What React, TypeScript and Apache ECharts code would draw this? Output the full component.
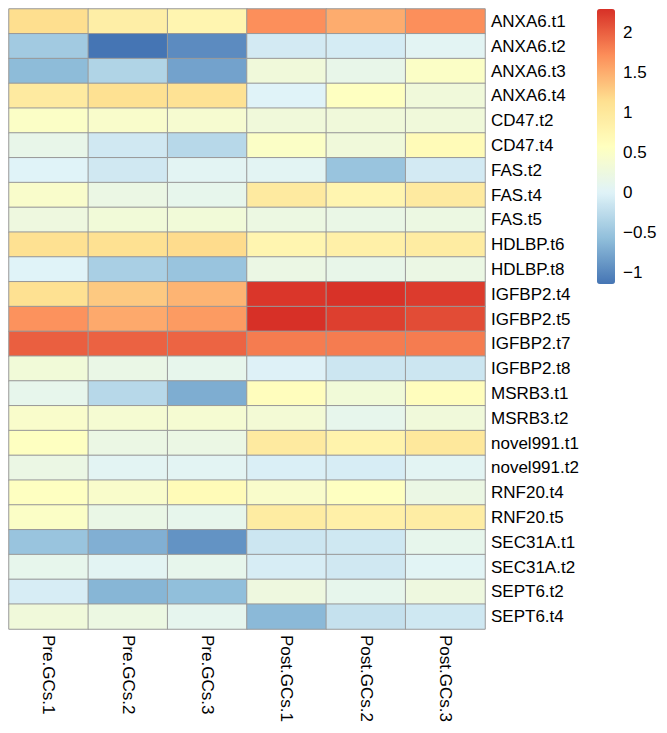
import React, { useEffect, useRef } from "react";
import * as echarts from "echarts";

const rows = [
  "ANXA6.t1", "ANXA6.t2", "ANXA6.t3", "ANXA6.t4", "CD47.t2", "CD47.t4",
  "FAS.t2", "FAS.t4", "FAS.t5", "HDLBP.t6", "HDLBP.t8", "IGFBP2.t4",
  "IGFBP2.t5", "IGFBP2.t7", "IGFBP2.t8", "MSRB3.t1", "MSRB3.t2",
  "novel991.t1", "novel991.t2", "RNF20.t4", "RNF20.t5", "SEC31A.t1",
  "SEC31A.t2", "SEPT6.t2", "SEPT6.t4",
];

const samples = ["Pre.GCs.1", "Pre.GCs.2", "Pre.GCs.3", "Post.GCs.1", "Post.GCs.2", "Post.GCs.3"];

const pre1 = [1.15, -0.45, -0.6, 0.95, 0.5, 0.15, 0.0, 0.45, 0.25, 1.12, 0.0, 1.12, 1.68, 2.0, 0.32, 0.12, 0.45, 0.55, 0.2, 0.55, 0.5, -0.52, 0.12, -0.07, 0.3];
const pre2 = [0.88, -1.15, -0.35, 1.12, 0.45, -0.12, -0.12, 0.2, 0.32, 1.12, -0.4, 1.3, 1.52, 1.98, 0.18, -0.3, 0.38, 0.2, 0.05, 0.45, 0.18, -0.7, 0.05, -0.65, 0.22];
const pre3 = [0.75, -0.98, -0.8, 1.1, 0.4, -0.3, 0.05, 0.12, 0.32, 1.17, -0.52, 1.45, 1.62, 1.97, 0.12, -0.72, 0.38, 0.2, 0.05, 0.65, 0.12, -0.92, 0.12, -0.58, 0.1];
const post1 = [1.7, -0.1, 0.3, 0.0, 0.3, 0.5, 0.05, 0.95, 0.22, 0.75, 0.2, 2.25, 2.29, 1.82, -0.02, 0.6, 0.35, 0.95, -0.05, 0.45, 0.92, -0.15, -0.07, 0.25, -0.62];
const post2 = [1.5, -0.08, 0.15, 0.55, 0.3, 0.3, -0.52, 0.75, 0.18, 0.85, 0.15, 2.28, 2.2, 1.82, -0.15, 0.32, 0.12, 0.8, -0.07, 0.55, 0.85, -0.13, -0.12, 0.12, -0.2];
const post3 = [1.7, 0.05, 0.5, 0.3, 0.3, 0.65, -0.1, 0.95, 0.22, 0.92, 0.2, 2.22, 2.12, 1.82, -0.15, 0.6, 0.3, 1.0, 0.05, 0.2, 0.9, 0.12, 0.03, 0.25, -0.13];

const columns = [pre1, pre2, pre3, post1, post2, post3];

const legendTicks = [-1, -0.5, 0, 0.5, 1, 1.5, 2];
const scaleMin = -1.15;
const scaleMax = 2.29;
const palette = ["#4575B4", "#91BFDB", "#E0F3F8", "#FFFFBF", "#FEE090", "#FC8D59", "#D73027"];

const FONT = "'Liberation Sans', Arial, sans-serif";

export default function App() {
  const ref = useRef<HTMLDivElement>(null);
  useEffect(() => {
    if (!ref.current) return;
    const chart = echarts.init(ref.current, null, { renderer: "svg" });
    const data: [number, number, number][] = [];
    columns.forEach((col, ci) => col.forEach((v, ri) => data.push([ci, ri, v])));
    chart.setOption({
      animation: false,
      backgroundColor: "#ffffff",
      textStyle: { fontFamily: FONT },
      grid: [
        { left: 9, top: 9, width: 476, height: 620 },
        { left: 597, top: 9, width: 18, height: 275 },
      ],
      xAxis: [
        {
          type: "category",
          gridIndex: 0,
          data: samples,
          position: "bottom",
          axisLine: { show: false },
          axisTick: { show: false },
          splitLine: { show: false },
          axisLabel: { rotate: -90, margin: 6, fontSize: 17, color: "#000", fontFamily: FONT },
        },
        { type: "category", gridIndex: 1, data: [""], show: false },
      ],
      yAxis: [
        {
          type: "category",
          gridIndex: 0,
          data: rows,
          inverse: true,
          position: "right",
          axisLine: { show: false },
          axisTick: { show: false },
          splitLine: { show: false },
          axisLabel: { margin: 6, fontSize: 17, color: "#000", fontFamily: FONT },
        },
        {
          type: "value",
          gridIndex: 1,
          min: scaleMin,
          max: scaleMax,
          position: "right",
          axisLine: { show: false },
          axisTick: { show: false },
          splitLine: { show: false },
          axisLabel: {
            customValues: legendTicks,
            margin: 8,
            fontSize: 17,
            color: "#000",
            fontFamily: FONT,
            formatter: (v: number) => String(v).replace("-", "\u2212"),
          },
        },
      ],
      visualMap: {
        type: "continuous",
        seriesIndex: 0,
        min: scaleMin,
        max: scaleMax,
        calculable: false,
        orient: "vertical",
        left: 597,
        top: 9,
        itemWidth: 18,
        itemHeight: 275,
        padding: 0,
        text: ["", ""],
        showLabel: false,
        inRange: { color: palette },
        hoverLink: false,
      },
      series: [
        {
          type: "heatmap",
          xAxisIndex: 0,
          yAxisIndex: 0,
          data,
          itemStyle: { borderColor: "#999999", borderWidth: 1 },
          emphasis: { disabled: true },
          label: { show: false },
        },
      ],
    });
    return () => chart.dispose();
  }, []);
  return (
    <div
      ref={ref}
      style={{ position: "absolute", left: 0, top: 0, width: 667, height: 733 }}
    />
  );
}
